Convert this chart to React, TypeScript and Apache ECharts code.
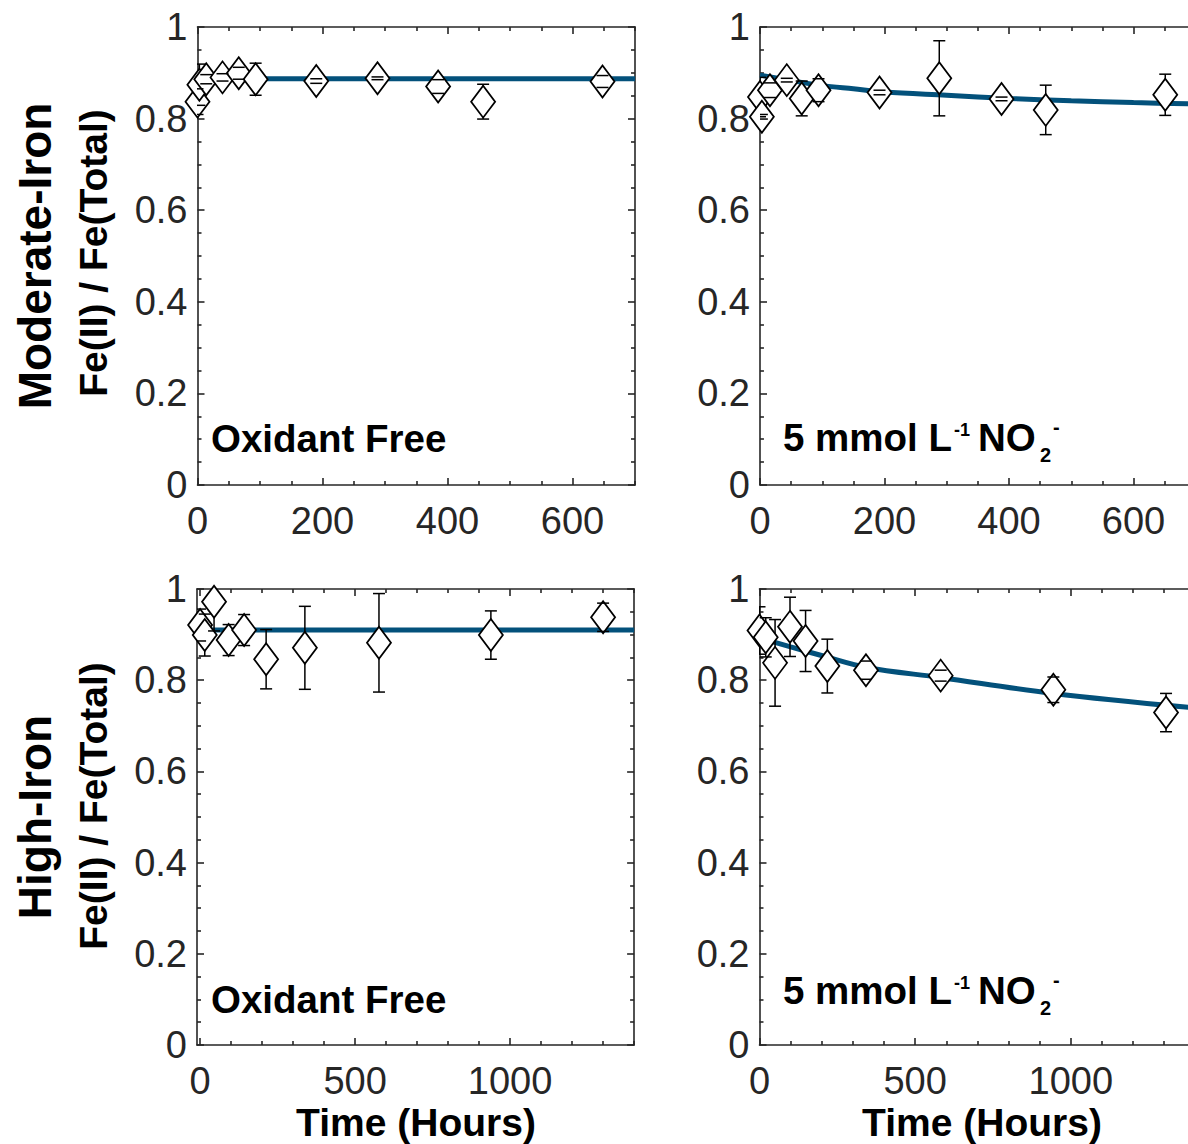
import React, { useEffect, useRef } from "react";
import * as echarts from "echarts";

// ---------------- data ----------------
// Moderate-Iron, oxidant free
const TL_T = [0, 3, 14, 40, 66, 93, 190, 288, 385, 457, 648];
const TL_V = [0.837, 0.874, 0.886, 0.89, 0.899, 0.886, 0.882, 0.888, 0.87, 0.837, 0.881];
const TL_E = [0.028, 0.045, 0.01, 0.008, 0.013, 0.035, 0.005, 0.003, 0.015, 0.038, 0.013];
const TL_FIT_T = [0, 700];
const TL_FIT_V = [0.887, 0.887];

// Moderate-Iron, 5 mmol/L nitrite
const TR_T = [0, 3, 16, 43, 67, 94, 192, 288, 388, 459, 651];
const TR_V = [0.847, 0.804, 0.862, 0.884, 0.844, 0.862, 0.857, 0.888, 0.843, 0.819, 0.852];
const TR_E = [0.043, 0.005, 0.016, 0.004, 0.038, 0.025, 0.005, 0.082, 0.004, 0.054, 0.045];
const TR_FIT_T = [0, 50, 100, 150, 200, 300, 400, 500, 600, 700];
const TR_FIT_V = [0.895, 0.883, 0.872, 0.865, 0.858, 0.851, 0.844, 0.839, 0.835, 0.832];

// High-Iron, oxidant free
const BL_T = [0, 15, 45, 92, 142, 213, 338, 577, 938, 1300];
const BL_V = [0.921, 0.899, 0.972, 0.888, 0.91, 0.846, 0.871, 0.882, 0.899, 0.938];
const BL_E = [0.035, 0.046, 0.064, 0.034, 0.034, 0.065, 0.091, 0.108, 0.053, 0.031];
const BL_FIT_T = [0, 1400];
const BL_FIT_V = [0.91, 0.91];

// High-Iron, 5 mmol/L nitrite
const BR_T = [0, 20, 50, 98, 148, 218, 342, 582, 944, 1306];
const BR_V = [0.909, 0.894, 0.838, 0.917, 0.886, 0.831, 0.822, 0.81, 0.779, 0.729];
const BR_E = [0.052, 0.043, 0.095, 0.065, 0.067, 0.059, 0.02, 0.012, 0.028, 0.042];
const BR_FIT_T = [0, 44, 100, 205, 344, 580, 944, 1400];
const BR_FIT_V = [0.893, 0.884, 0.873, 0.853, 0.828, 0.806, 0.771, 0.739];

// ticks
const Y_MAJOR = [0, 0.2, 0.4, 0.6, 0.8, 1];
const Y_MINOR = [0.05, 0.1, 0.15, 0.25, 0.3, 0.35, 0.45, 0.5, 0.55, 0.65, 0.7, 0.75, 0.85, 0.9, 0.95];
const XT_MAJOR = [0, 200, 400, 600];
const XT_MINOR = [50, 100, 150, 250, 300, 350, 450, 500, 550, 650, 700];
const XB_MAJOR = [0, 500, 1000];
const XB_MINOR = [100, 200, 300, 400, 600, 700, 800, 900, 1100, 1200, 1300, 1400];

const FONT = "'Liberation Sans', Arial, Helvetica, sans-serif";
const AXIS_COLOR = "#262626";
const FIT_COLOR = "#03517B";

const lineStyle = { color: AXIS_COLOR, width: 1.6 };

function xAxes(grid: number, min: number, max: number, majors: number[], minors: number[]) {
  const base = { gridIndex: grid, type: "value", min, max, splitLine: { show: false } };
  const out: any[] = [];
  for (const pos of ["bottom", "top"]) {
    out.push({
      ...base,
      position: pos,
      axisLine: { show: true, onZero: false, lineStyle },
      axisTick: { show: true, inside: true, length: 7, customValues: majors, lineStyle },
      axisLabel: {
        show: pos === "bottom",
        customValues: majors,
        margin: 17,
        color: AXIS_COLOR,
        fontSize: 38,
        fontFamily: FONT,
        formatter: (v: number) => String(v),
      },
    });
    out.push({
      ...base,
      position: pos,
      axisLine: { show: false, onZero: false },
      axisTick: { show: true, inside: true, length: 4, customValues: minors, lineStyle },
      axisLabel: { show: false },
    });
  }
  return out;
}

function yAxes(grid: number) {
  const base = { gridIndex: grid, type: "value", min: 0, max: 1, splitLine: { show: false } };
  const out: any[] = [];
  for (const pos of ["left", "right"]) {
    out.push({
      ...base,
      position: pos,
      axisLine: { show: true, onZero: false, lineStyle },
      axisTick: { show: true, inside: true, length: 7, customValues: Y_MAJOR, lineStyle },
      axisLabel: {
        show: pos === "left",
        customValues: Y_MAJOR,
        margin: 10,
        color: AXIS_COLOR,
        fontSize: 38,
        fontFamily: FONT,
        formatter: (v: number) => String(v),
      },
    });
    out.push({
      ...base,
      position: pos,
      axisLine: { show: false, onZero: false },
      axisTick: { show: true, inside: true, length: 4, customValues: Y_MINOR, lineStyle },
      axisLabel: { show: false },
    });
  }
  return out;
}

function panelSeries(g: number, T: number[], V: number[], E: number[], FT: number[], FV: number[], smooth: boolean) {
  const ax = { xAxisIndex: g * 4, yAxisIndex: g * 4 };
  const pts = T.map((t, i) => [t, V[i], E[i]]);
  return [
    {
      type: "line",
      ...ax,
      data: FT.map((t, i) => [t, FV[i]]),
      showSymbol: false,
      smooth: smooth ? 0.35 : false,
      lineStyle: { color: FIT_COLOR, width: 5 },
      z: 1,
      silent: true,
    },
    {
      type: "custom",
      ...ax,
      data: pts,
      clip: true,
      z: 2,
      renderItem: (_p: any, api: any) => {
        const x = api.value(0), v = api.value(1), e = api.value(2);
        const a = api.coord([x, v - e]);
        const b = api.coord([x, v + e]);
        return {
          type: "line",
          shape: { x1: a[0], y1: a[1], x2: b[0], y2: b[1] },
          style: { stroke: "#000", lineWidth: 1.5 },
        };
      },
    },
    {
      type: "scatter",
      ...ax,
      data: pts.map((p) => [p[0], p[1]]),
      symbol: "diamond",
      symbolSize: [24, 32],
      clip: false,
      itemStyle: { color: "#fff", borderColor: "#000", borderWidth: 1.8, opacity: 1 },
      z: 3,
    },
    {
      type: "custom",
      ...ax,
      data: pts,
      clip: true,
      z: 4,
      renderItem: (_p: any, api: any) => {
        const x = api.value(0), v = api.value(1), e = api.value(2);
        const a = api.coord([x, v - e]);
        const b = api.coord([x, v + e]);
        const hw = 6;
        return {
          type: "group",
          children: [
            { type: "line", shape: { x1: a[0] - hw, y1: a[1], x2: a[0] + hw, y2: a[1] }, style: { stroke: "#000", lineWidth: 1.5 } },
            { type: "line", shape: { x1: b[0] - hw, y1: b[1], x2: b[0] + hw, y2: b[1] }, style: { stroke: "#000", lineWidth: 1.5 } },
          ],
        };
      },
    },
  ];
}

function txt(text: string, x: number, y: number, size: number, opts: any = {}) {
  return {
    type: "text",
    x,
    y,
    rotation: opts.rotation || 0,
    silent: true,
    style: {
      text,
      fill: "#000",
      fontSize: size,
      fontWeight: opts.weight || "bold",
      fontFamily: FONT,
      align: opts.align || "left",
      verticalAlign: "middle",
    },
  };
}

function nitriteLabel(y: number) {
  return [
    txt("5 mmol L", 783, y, 38.5),
    txt("-1", 954, y - 7, 18),
    txt("NO", 978, y, 38.5),
    txt("2", 1040, y + 18, 20),
    txt("-", 1053, y - 10, 20),
  ];
}

export default function App() {
  const ref = useRef<HTMLDivElement>(null);
  useEffect(() => {
    document.body.style.margin = "0";
    if (!ref.current) return;
    const chart = echarts.init(ref.current, undefined, { renderer: "svg" });
    const grids = [
      { left: 197.5, top: 27, width: 437.5, height: 458 },
      { left: 760, top: 27, width: 435.75, height: 458 },
      { left: 197, top: 589, width: 437.1, height: 456 },
      { left: 759.5, top: 589, width: 435.8, height: 456 },
    ].map((g) => ({ ...g, show: false, outerBoundsMode: "none", containLabel: false }));

    const xAxis = [
      ...xAxes(0, 0, 700, XT_MAJOR, XT_MINOR),
      ...xAxes(1, 0, 700, XT_MAJOR, XT_MINOR),
      ...xAxes(2, -10, 1400, XB_MAJOR, XB_MINOR),
      ...xAxes(3, 0, 1400, XB_MAJOR, XB_MINOR),
    ];
    const yAxis = [...yAxes(0), ...yAxes(1), ...yAxes(2), ...yAxes(3)];

    const series = [
      ...panelSeries(0, TL_T, TL_V, TL_E, TL_FIT_T, TL_FIT_V, false),
      ...panelSeries(1, TR_T, TR_V, TR_E, TR_FIT_T, TR_FIT_V, true),
      ...panelSeries(2, BL_T, BL_V, BL_E, BL_FIT_T, BL_FIT_V, false),
      ...panelSeries(3, BR_T, BR_V, BR_E, BR_FIT_T, BR_FIT_V, true),
    ];

    const graphic = [
      txt("Moderate-Iron", 35, 256, 46, { rotation: Math.PI / 2, align: "center" }),
      txt("Fe(II) / Fe(Total)", 93, 253, 39, { rotation: Math.PI / 2, align: "center" }),
      txt("High-Iron", 35, 817, 46, { rotation: Math.PI / 2, align: "center" }),
      txt("Fe(II) / Fe(Total)", 93, 806, 39, { rotation: Math.PI / 2, align: "center" }),
      txt("Oxidant Free", 211, 438, 38.5),
      txt("Oxidant Free", 211, 999, 38.5),
      ...nitriteLabel(437),
      ...nitriteLabel(990),
      txt("Time (Hours)", 416, 1122, 39, { align: "center" }),
      txt("Time (Hours)", 982, 1122, 39, { align: "center" }),
    ];

    chart.setOption({
      animation: false,
      backgroundColor: "#fff",
      grid: grids,
      xAxis,
      yAxis,
      series,
      graphic,
    });
    return () => chart.dispose();
  }, []);
  return (
    <div
      ref={ref}
      style={{ position: "absolute", left: 0, top: 0, width: 1188, height: 1144 }}
    />
  );
}
